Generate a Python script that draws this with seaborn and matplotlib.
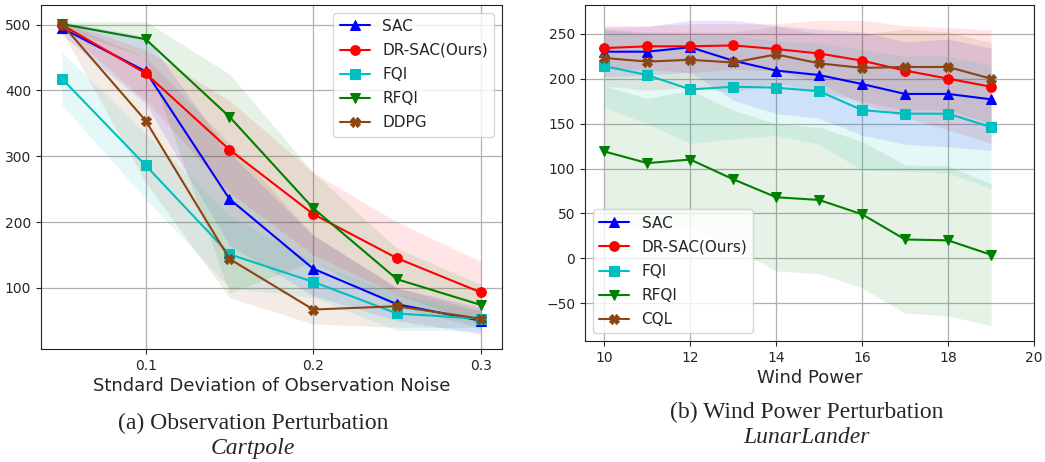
import numpy as np
import seaborn as sns
import matplotlib.pyplot as plt

# ---- Cartpole: observation noise ----
noise = [0.05, 0.10, 0.15, 0.20, 0.25, 0.30]

cp_sac = [495, 429, 235, 129, 75, 50]
cp_sac_lo = [485, 380, 165, 88, 50, 30]
cp_sac_hi = [505, 482, 305, 180, 100, 70]

cp_drsac = [500, 426, 310, 212, 145, 93]
cp_drsac_lo = [495, 385, 245, 150, 90, 45]
cp_drsac_hi = [505, 462, 385, 275, 200, 140]

cp_fqi = [418, 286, 151, 109, 61, 53]
cp_fqi_lo = [378, 235, 100, 85, 35, 35]
cp_fqi_hi = [458, 335, 210, 140, 90, 65]

cp_rfqi = [501, 478, 360, 221, 113, 74]
cp_rfqi_lo = [495, 450, 92, 140, 70, 40]
cp_rfqi_hi = [505, 505, 425, 275, 160, 105]

cp_ddpg = [501, 354, 144, 67, 72, 53]
cp_ddpg_lo = [490, 260, 85, 45, 40, 40]
cp_ddpg_hi = [505, 450, 320, 180, 100, 65]

# ---- LunarLander: wind power ----
wind = [10, 11, 12, 13, 14, 15, 16, 17, 18, 19]

ll_sac = [230, 230, 235, 220, 209, 204, 194, 183, 183, 177]
ll_sac_lo = [202, 204, 207, 176, 161, 156, 137, 127, 124, 120]
ll_sac_hi = [257, 258, 265, 265, 259, 255, 252, 241, 244, 234]

ll_drsac = [234, 236, 236, 237, 233, 228, 220, 209, 200, 191]
ll_drsac_lo = [211, 210, 207, 210, 209, 195, 172, 157, 143, 128]
ll_drsac_hi = [259, 259, 261, 261, 261, 265, 265, 259, 257, 254]

ll_fqi = [214, 204, 188, 191, 190, 186, 165, 161, 161, 146]
ll_fqi_lo = [168, 150, 128, 133, 137, 127, 98, 97, 95, 78]
ll_fqi_hi = [255, 250, 248, 248, 242, 240, 232, 225, 225, 215]

ll_rfqi = [119, 106, 110, 88, 68, 65, 49, 21, 20, 4]
ll_rfqi_lo = [38, 32, 35, 12, -14, -17, -33, -61, -64, -75]
ll_rfqi_hi = [192, 178, 187, 165, 150, 146, 130, 104, 103, 83]

ll_cql = [223, 219, 221, 218, 227, 217, 212, 213, 213, 200]
ll_cql_lo = [192, 187, 190, 185, 195, 185, 175, 165, 165, 150]
ll_cql_hi = [255, 252, 252, 252, 258, 250, 250, 255, 252, 240]

cp_series = [
    ("SAC", cp_sac, cp_sac_lo, cp_sac_hi, "blue", "^"),
    ("DR-SAC(Ours)", cp_drsac, cp_drsac_lo, cp_drsac_hi, "red", "o"),
    ("FQI", cp_fqi, cp_fqi_lo, cp_fqi_hi, "c", "s"),
    ("RFQI", cp_rfqi, cp_rfqi_lo, cp_rfqi_hi, "green", "v"),
    ("DDPG", cp_ddpg, cp_ddpg_lo, cp_ddpg_hi, "saddlebrown", "X"),
]
ll_series = [
    ("SAC", ll_sac, ll_sac_lo, ll_sac_hi, "blue", "^"),
    ("DR-SAC(Ours)", ll_drsac, ll_drsac_lo, ll_drsac_hi, "red", "o"),
    ("FQI", ll_fqi, ll_fqi_lo, ll_fqi_hi, "c", "s"),
    ("RFQI", ll_rfqi, ll_rfqi_lo, ll_rfqi_hi, "green", "v"),
    ("CQL", ll_cql, ll_cql_lo, ll_cql_hi, "saddlebrown", "X"),
]

sns.set_style("ticks")
plt.rcParams['font.family'] = ['DejaVu Sans']

fig = plt.figure(figsize=(10.45, 4.62), dpi=100)
ax1 = fig.add_axes([0.0392, 0.2446, 0.441, 0.7446])
ax2 = fig.add_axes([0.5598, 0.2619, 0.4297, 0.7273])


def draw(ax, xs, series):
    for name, mean, lo, hi, col, mk in series:
        ax.fill_between(xs, lo, hi, color=col, alpha=0.1, linewidth=0)
        sns.lineplot(x=xs, y=mean, ax=ax, color=col, marker=mk, markersize=7,
                     markeredgecolor=col, linewidth=1.5, label=name)
    ax.grid(True, color="#b0b0b0", linewidth=0.9)
    ax.tick_params(labelsize=10)
    for s in ax.spines.values():
        s.set_color("#222222")


draw(ax1, noise, cp_series)
ax1.set_xticks([0.1, 0.2, 0.3])
ax1.set_yticks([100, 200, 300, 400, 500])
ax1.set_xlim(0.0375, 0.3125)
ax1.set_ylim(7, 530)
ax1.set_xlabel("Stndard Deviation of Observation Noise", fontsize=13, labelpad=3)
ax1.legend(loc="upper right", fontsize=11, labelspacing=0.6)

draw(ax2, wind, ll_series)
ax2.set_xticks([10, 12, 14, 16, 18, 20])
ax2.set_yticks([-50, 0, 50, 100, 150, 200, 250])
ax2.set_xlim(9.55, 20)
ax2.set_ylim(-92, 282)
ax2.set_xlabel("Wind Power", fontsize=13, labelpad=3)
ax2.legend(loc="lower left", fontsize=11, labelspacing=0.6)

serif = ['Liberation Serif', 'DejaVu Serif']
fig.text(0.242, 0.0844, "(a) Observation Perturbation", ha="center", va="center",
         fontsize=17, family=serif)
fig.text(0.242, 0.030, "Cartpole", ha="center", va="center", fontsize=17,
         family=serif, style="italic")
fig.text(0.772, 0.108, "(b) Wind Power Perturbation", ha="center", va="center",
         fontsize=17, family=serif)
fig.text(0.772, 0.054, "LunarLander", ha="center", va="center", fontsize=17,
         family=serif, style="italic")

fig.savefig("out.png", dpi=100)
